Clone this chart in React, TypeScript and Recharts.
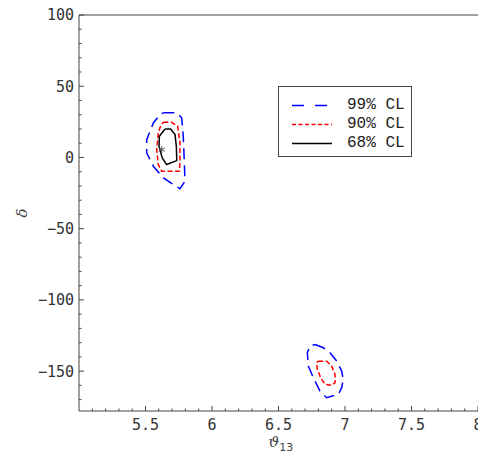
import React from 'react';
import { ComposedChart, Line, Scatter, XAxis, YAxis, Legend, ReferenceLine } from 'recharts';

// allowed region near theta13 ~ 5.6, delta ~ 0
const blue99Upper = [
  { x: 5.634, y: 31.3 }, { x: 5.735, y: 31.3 }, { x: 5.772, y: 27.8 }, { x: 5.784, y: 14.8 },
  { x: 5.792, y: -3.8 }, { x: 5.797, y: -16.7 }, { x: 5.759, y: -22 }, { x: 5.709, y: -19 },
  { x: 5.634, y: -14.3 }, { x: 5.559, y: -6.2 }, { x: 5.509, y: 3.2 }, { x: 5.509, y: 12.5 },
  { x: 5.559, y: 24.2 }, { x: 5.609, y: 30.1 },
];
const red90Upper = [
  { x: 5.634, y: 24.7 }, { x: 5.697, y: 24.7 }, { x: 5.742, y: 21.9 }, { x: 5.759, y: 10.2 },
  { x: 5.759, y: -3.8 }, { x: 5.754, y: -9.7 }, { x: 5.622, y: -9.7 }, { x: 5.596, y: -5 },
  { x: 5.584, y: 5.5 }, { x: 5.596, y: 17.2 }, { x: 5.614, y: 22.3 },
];
const black68Upper = [
  { x: 5.647, y: 20 }, { x: 5.689, y: 20 }, { x: 5.722, y: 16 }, { x: 5.732, y: 7.8 },
  { x: 5.735, y: -2.2 }, { x: 5.659, y: -5 }, { x: 5.626, y: -0.3 }, { x: 5.602, y: 7.8 },
  { x: 5.604, y: 14.8 },
];

// allowed region near theta13 ~ 6.85, delta ~ -150
const blue99Lower = [
  { x: 6.774, y: -131.3 }, { x: 6.837, y: -133.6 }, { x: 6.887, y: -137.1 }, { x: 6.938, y: -143 },
  { x: 6.975, y: -150 }, { x: 6.987, y: -155.8 }, { x: 6.975, y: -161.6 }, { x: 6.95, y: -166.3 },
  { x: 6.862, y: -168.7 }, { x: 6.812, y: -164 }, { x: 6.762, y: -154.6 }, { x: 6.724, y: -146.5 },
  { x: 6.717, y: -137.1 }, { x: 6.737, y: -132.5 },
];
const red90Lower = [
  { x: 6.799, y: -143 }, { x: 6.862, y: -143 }, { x: 6.9, y: -146.5 }, { x: 6.925, y: -152.3 },
  { x: 6.925, y: -158.1 }, { x: 6.9, y: -160 }, { x: 6.85, y: -159.3 }, { x: 6.817, y: -154.6 },
  { x: 6.792, y: -148.8 }, { x: 6.787, y: -144.1 },
];

const bestFit = [{ x: 5.622, y: 5.5 }];

const xMajor = [5.5, 6, 6.5, 7, 7.5, 8];
const xMajorLabels = ['5.5', '6', '6.5', '7', '7.5', '8'];
const yMajor = [-150, -100, -50, 0, 50, 100];
const yMajorLabels = ['\u2212150', '\u2212100', '\u221250', '0', '50', '100'];

const legendItems = [
  { label: '99% CL', color: '#0000ff', dash: '12 11' },
  { label: '90% CL', color: '#ff0000', dash: '4 2.5' },
  { label: '68% CL', color: '#000000', dash: undefined },
];

const X_DOMAIN: [number, number] = [5, 8];
const Y_DOMAIN: [number, number] = [-178, 100];

const xTicks: number[] = [];
for (let i = 51; i <= 80; i++) xTicks.push(i / 10);
const yTicks: number[] = [];
for (let i = -17; i <= 10; i++) yTicks.push(i * 10);

const AXIS = '#444';
const TICK_FONT = '"DejaVu Sans Mono", monospace';

const closed = (pts: { x: number; y: number }[]) => [...pts, pts[0]];

const findMajor = (list: number[], v: number) => list.findIndex((m) => Math.abs(m - v) < 1e-6);

const BottomTick = (props: any) => {
  const { x, y, payload } = props;
  const i = findMajor(xMajor, payload.value);
  return (
    <g>
      <line x1={x} x2={x} y1={y} y2={y - (i >= 0 ? 5 : 2.5)} stroke={AXIS} />
      {i >= 0 && (
        <text x={x} y={y + 19} textAnchor="middle" fontSize={15} fontFamily={TICK_FONT} fill="#333">
          {xMajorLabels[i]}
        </text>
      )}
    </g>
  );
};

const TopTick = (props: any) => {
  const { x, y, payload } = props;
  const major = findMajor(xMajor, payload.value) >= 0;
  return <line x1={x} x2={x} y1={y} y2={y + (major ? 5 : 2.5)} stroke={AXIS} />;
};

const LeftTick = (props: any) => {
  const { x, y, payload } = props;
  const i = findMajor(yMajor, payload.value);
  return (
    <g>
      <line x1={x} x2={x + (i >= 0 ? 5 : 2.5)} y1={y} y2={y} stroke={AXIS} />
      {i >= 0 && (
        <text x={x - 5} y={y} dy="0.36em" textAnchor="end" fontSize={15} fontFamily={TICK_FONT} fill="#333">
          {yMajorLabels[i]}
        </text>
      )}
    </g>
  );
};

const RightTick = (props: any) => {
  const { x, y, payload } = props;
  const major = findMajor(yMajor, payload.value) >= 0;
  return <line x1={x} x2={x - (major ? 5 : 2.5)} y1={y} y2={y} stroke={AXIS} />;
};

const XLabel = (props: any) => {
  const { viewBox } = props;
  const cx = viewBox.x + viewBox.width / 2;
  return (
    <text x={cx - 10} y={viewBox.y + 36} fill="#444" fontFamily="'DejaVu Serif', serif" fontSize={15}>
      <tspan fontStyle="italic">{'\u03D1'}</tspan>
      <tspan fontSize={11} dy={4} fontFamily="'DejaVu Sans', sans-serif">13</tspan>
    </text>
  );
};

const YLabel = (props: any) => {
  const { viewBox } = props;
  const cy = viewBox.y + viewBox.height / 2;
  return (
    <text
      x={22}
      y={cy}
      transform={`rotate(-90 22 ${cy})`}
      textAnchor="middle"
      dy="0.35em"
      fill="#444"
      fontFamily="'DejaVu Serif', serif"
      fontStyle="italic"
      fontSize={15}
    >
      {'\u03B4'}
    </text>
  );
};

const Star = (props: any) => {
  const { cx, cy } = props;
  const r = 3.5;
  return (
    <g stroke="#555" strokeWidth={1}>
      <line x1={cx} x2={cx} y1={cy - r} y2={cy + r} />
      <line x1={cx - r * 0.87} x2={cx + r * 0.87} y1={cy - r / 2} y2={cy + r / 2} />
      <line x1={cx - r * 0.87} x2={cx + r * 0.87} y1={cy + r / 2} y2={cy - r / 2} />
    </g>
  );
};

const LegendBox = () => (
  <div
    style={{
      width: 134,
      height: 71,
      boxSizing: 'border-box',
      border: '1px solid #444',
      background: '#fff',
      paddingTop: 9,
    }}
  >
    {legendItems.map((it) => (
      <div key={it.label} style={{ display: 'flex', alignItems: 'center', height: 19 }}>
        <svg width={68} height={19} style={{ display: 'block' }}>
          <line x1={13} x2={53} y1={9.5} y2={9.5} stroke={it.color} strokeWidth={1.5} strokeDasharray={it.dash} />
        </svg>
        <span style={{ fontFamily: '"Liberation Mono", monospace', fontSize: 16, color: '#222', lineHeight: '19px' }}>
          {it.label}
        </span>
      </div>
    ))}
  </div>
);

export default function App() {
  return (
    <div style={{ width: 478, height: 457, background: '#fff' }}>
      <style>{'body{margin:0;}'}</style>
      <ComposedChart width={478} height={457} margin={{ top: 15, right: 0, bottom: 0, left: 0 }}>
        <XAxis
          xAxisId="b"
          dataKey="x"
          type="number"
          domain={X_DOMAIN}
          allowDataOverflow
          ticks={xTicks}
          interval={0}
          tickSize={0}
          tickMargin={0}
          tick={<BottomTick />}
          tickLine={false}
          axisLine={{ stroke: AXIS }}
          height={46}
          label={<XLabel />}
        />
        <XAxis
          xAxisId="t"
          orientation="top"
          dataKey="x"
          type="number"
          domain={X_DOMAIN}
          allowDataOverflow
          ticks={xTicks}
          interval={0}
          tickSize={0}
          tickMargin={0}
          tick={<TopTick />}
          tickLine={false}
          axisLine={{ stroke: AXIS }}
          height={0}
        />
        <YAxis
          yAxisId="l"
          type="number"
          domain={Y_DOMAIN}
          allowDataOverflow
          ticks={yTicks}
          interval={0}
          tickSize={0}
          tickMargin={0}
          tick={<LeftTick />}
          tickLine={false}
          axisLine={{ stroke: AXIS }}
          width={79}
          label={<YLabel />}
        />
        <YAxis
          yAxisId="r"
          orientation="right"
          type="number"
          domain={Y_DOMAIN}
          allowDataOverflow
          ticks={yTicks}
          interval={0}
          tickSize={0}
          tickMargin={0}
          tick={<RightTick />}
          tickLine={false}
          axisLine={{ stroke: AXIS }}
          width={0}
        />
        <ReferenceLine xAxisId="b" yAxisId="l" y={100} stroke={AXIS} strokeWidth={1.2} />
        <Legend
          layout="vertical"
          align="center"
          verticalAlign="middle"
          content={<LegendBox />}
          wrapperStyle={{ position: 'absolute', left: 278, top: 86, width: 134 }}
        />
        <Line xAxisId="b" yAxisId="l" data={closed(blue99Upper)} dataKey="y" stroke="#0000ff" strokeWidth={1.5}
          strokeDasharray="11 6" dot={false} activeDot={false} isAnimationActive={false} legendType="none" />
        <Line xAxisId="b" yAxisId="l" data={closed(red90Upper)} dataKey="y" stroke="#ff0000" strokeWidth={1.5}
          strokeDasharray="5 2.5" dot={false} activeDot={false} isAnimationActive={false} legendType="none" />
        <Line xAxisId="b" yAxisId="l" data={closed(black68Upper)} dataKey="y" stroke="#000" strokeWidth={1.5}
          dot={false} activeDot={false} isAnimationActive={false} legendType="none" />
        <Line xAxisId="b" yAxisId="l" data={closed(blue99Lower)} dataKey="y" stroke="#0000ff" strokeWidth={1.5}
          strokeDasharray="11 6" dot={false} activeDot={false} isAnimationActive={false} legendType="none" />
        <Line xAxisId="b" yAxisId="l" data={closed(red90Lower)} dataKey="y" stroke="#ff0000" strokeWidth={1.5}
          strokeDasharray="5 2.5" dot={false} activeDot={false} isAnimationActive={false} legendType="none" />
        <Scatter xAxisId="b" yAxisId="l" data={bestFit} dataKey="y" shape={<Star />}
          isAnimationActive={false} legendType="none" />
      </ComposedChart>
    </div>
  );
}
